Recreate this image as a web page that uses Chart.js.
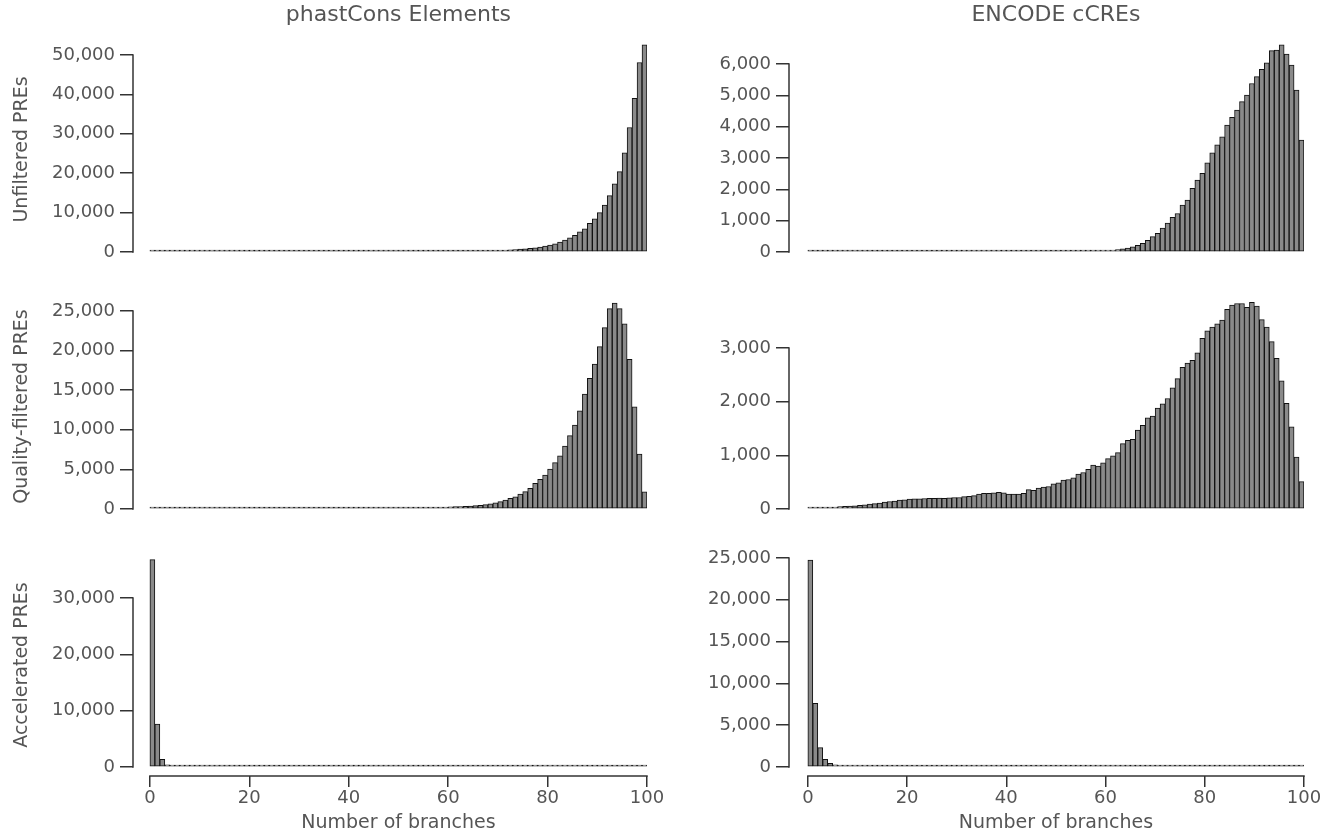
<!DOCTYPE html>
<html>
<head>
<meta charset="utf-8">
<script src="https://cdn.jsdelivr.net/npm/chart.js@4.4.0/dist/chart.umd.min.js"></script>
<style>
  body { margin: 0; background: #fff; }
  #wrap { position: relative; width: 1323px; height: 837px; }
  #wrap canvas { position: absolute; left: 0; top: 0; }
</style>
</head>
<body>
<div id="wrap">
  <canvas id="c1" width="1323" height="837"></canvas>
  <canvas id="c2" width="1323" height="837"></canvas>
  <canvas id="c3" width="1323" height="837"></canvas>
  <canvas id="c4" width="1323" height="837"></canvas>
  <canvas id="c5" width="1323" height="837"></canvas>
  <canvas id="c6" width="1323" height="837"></canvas>
</div>
<script>
// --- data: counts per 1-branch bin (0-1, 1-2, ... 99-100) ---
const bins = Array.from({length: 100}, (_, i) => i); // bin left edges

const phastUnfiltered = [
  12, 10, 9, 9, 8, 8, 8, 8, 8, 8,
  8, 8, 8, 9, 9, 9, 9, 10, 10, 10,
  11, 11, 12, 12, 13, 13, 14, 15, 15, 16,
  17, 18, 19, 20, 21, 23, 24, 26, 28, 30,
  32, 34, 36, 39, 42, 45, 48, 52, 56, 60,
  65, 70, 75, 81, 87, 94, 101, 109, 118, 128,
  140, 155, 170, 190, 210, 235, 265, 300, 340, 385,
  430, 490, 560, 640, 720, 800, 920, 1060, 1250, 1500,
  1750, 2050, 2500, 3000, 3600, 4200, 5100, 5900, 7300, 8400,
  10000, 11900, 14300, 17300, 20400, 25200, 31600, 39000, 48100, 52600
];
const encodeUnfiltered = [
  3, 3, 3, 3, 3, 3, 3, 3, 3, 3,
  3, 3, 3, 3, 3, 4, 4, 4, 4, 4,
  4, 4, 4, 5, 5, 5, 5, 5, 6, 6,
  6, 6, 7, 7, 7, 8, 8, 8, 9, 9,
  10, 10, 11, 12, 12, 13, 14, 15, 16, 18,
  19, 21, 23, 25, 28, 31, 34, 38, 43, 48,
  55, 65, 80, 100, 125, 165, 215, 280, 375, 490,
  600, 760, 920, 1110, 1230, 1500, 1660, 2030, 2300, 2510,
  2850, 3170, 3420, 3680, 4050, 4300, 4530, 4800, 5010, 5380,
  5600, 5830, 6040, 6430, 6450, 6610, 6320, 5970, 5170, 3570
];
const phastFiltered = [
  60, 55, 55, 55, 60, 60, 65, 70, 75, 80,
  90, 100, 110, 130, 150, 200, 230, 180, 140, 120,
  100, 90, 85, 80, 80, 75, 75, 75, 75, 75,
  75, 75, 75, 78, 80, 82, 85, 88, 90, 95,
  98, 100, 105, 110, 115, 120, 125, 130, 138, 145,
  150, 158, 165, 172, 180, 190, 200, 215, 230, 250,
  270, 295, 320, 350, 380, 420, 470, 550, 650, 780,
  930, 1140, 1350, 1550, 1890, 2190, 2610, 3240, 3750, 4290,
  5050, 5850, 6730, 7950, 9260, 10600, 12400, 14500, 16500, 18300,
  20500, 22900, 25300, 26000, 25300, 23400, 18900, 12900, 6940, 2180
];
const encodeFiltered = [
  30, 30, 30, 30, 35, 35, 45, 50, 55, 60,
  70, 80, 90, 100, 110, 130, 140, 150, 165, 170,
  185, 190, 190, 195, 200, 200, 205, 200, 210, 215,
  215, 230, 235, 250, 280, 290, 290, 300, 310, 300,
  280, 280, 280, 290, 360, 350, 390, 410, 420, 470,
  490, 540, 550, 580, 650, 680, 740, 820, 800, 860,
  940, 990, 1050, 1220, 1280, 1300, 1470, 1560, 1700, 1730,
  1880, 1960, 2060, 2260, 2430, 2640, 2720, 2770, 2910, 3180,
  3320, 3390, 3450, 3520, 3720, 3800, 3830, 3830, 3760, 3850,
  3780, 3530, 3390, 3120, 2810, 2390, 1970, 1530, 970, 510
];
const phastAccelerated = [
  36800, 7600, 1350, 380, 180, 90, 40, 25, 20, 15,
  12, 12, 11, 11, 10, 10, 10, 10, 10, 10,
  10, 10, 10, 10, 10, 10, 10, 10, 10, 10,
  10, 10, 10, 10, 10, 10, 10, 10, 10, 10,
  10, 10, 10, 10, 10, 10, 10, 10, 10, 10,
  10, 10, 10, 10, 10, 10, 10, 10, 10, 10,
  10, 10, 10, 10, 10, 10, 10, 10, 10, 10,
  10, 10, 10, 10, 10, 10, 10, 10, 10, 10,
  10, 10, 10, 10, 10, 10, 10, 10, 10, 10,
  10, 10, 10, 10, 10, 10, 10, 10, 10, 10
];
const encodeAccelerated = [
  24750, 7620, 2310, 920, 440, 250, 150, 100, 70, 50,
  40, 35, 30, 28, 25, 22, 20, 18, 16, 15,
  12, 12, 12, 11, 11, 11, 10, 10, 10, 10,
  10, 10, 10, 10, 10, 10, 10, 10, 10, 10,
  10, 10, 10, 10, 10, 10, 10, 10, 10, 10,
  10, 10, 10, 10, 10, 10, 10, 10, 10, 10,
  10, 10, 10, 10, 10, 10, 10, 10, 10, 10,
  10, 10, 10, 10, 10, 10, 10, 10, 10, 10,
  10, 10, 10, 10, 10, 10, 10, 10, 10, 10,
  10, 10, 10, 10, 10, 10, 10, 10, 10, 10
];

// tick labels
const xTicks = [0, 20, 40, 60, 80, 100];
const ticksPhastUnf = [0, 10000, 20000, 30000, 40000, 50000];
const ticksEncodeUnf = [0, 1000, 2000, 3000, 4000, 5000, 6000];
const ticksPhastFil = [0, 5000, 10000, 15000, 20000, 25000];
const ticksEncodeFil = [0, 1000, 2000, 3000];
const ticksPhastAcc = [0, 10000, 20000, 30000];
const ticksEncodeAcc = [0, 5000, 10000, 15000, 20000, 25000];

const colTitles = ['phastCons Elements', 'ENCODE cCREs'];
const rowTitles = ['Unfiltered PREs', 'Quality-filtered PREs', 'Accelerated PREs'];
const xTitle = 'Number of branches';

// --- styling ---
const FONT = 'DejaVu Sans';
const textColor = '#555555';
const axisColor = '#333333';

// column frames (pixels): left = y axis line, right = x value 100
const cols = [
  {padLeft: 0, yWidth: 133, padRight: 1323 - 647, xMin: -3.4},
  {padLeft: 689, yWidth: 100, padRight: 1323 - 1304, xMin: -3.8}
];
// row frames: chart area top/bottom
const rows = [
  {top: 39, bottom: 260},
  {top: 296, bottom: 517},
  {top: 554, bottom: 776}
];

const panels = [
  {id: 'c1', col: 0, row: 0, values: phastUnfiltered, yTicks: ticksPhastUnf, yMin: -2030, yMax: 54060},
  {id: 'c2', col: 1, row: 0, values: encodeUnfiltered, yTicks: ticksEncodeUnf, yMin: -255, yMax: 6800},
  {id: 'c3', col: 0, row: 1, values: phastFiltered, yTicks: ticksPhastFil, yMin: -1010, yMax: 26900},
  {id: 'c4', col: 1, row: 1, values: encodeFiltered, yTicks: ticksEncodeFil, yMin: -149, yMax: 3970},
  {id: 'c5', col: 0, row: 2, values: phastAccelerated, yTicks: ticksPhastAcc, yMin: -1598, yMax: 37810},
  {id: 'c6', col: 1, row: 2, values: encodeAccelerated, yTicks: ticksEncodeAcc, yMin: -1077, yMax: 25480}
];

// R-style axes: y line only from first to last tick, x line from 0 to 100, titles
const rAxes = {
  id: 'rAxes',
  afterDraw(chart, args, o) {
    const ctx = chart.ctx;
    const xs = chart.scales.x, ys = chart.scales.y;
    const area = chart.chartArea;
    const x0 = xs.getPixelForValue(xTicks[0]);
    const x1 = xs.getPixelForValue(xTicks[xTicks.length - 1]);
    ctx.save();
    ctx.strokeStyle = axisColor;
    ctx.lineWidth = 1.5;
    ctx.beginPath();
    ctx.moveTo(area.left, ys.getPixelForValue(o.yTicks[0]) + 0.75);
    ctx.lineTo(area.left, ys.getPixelForValue(o.yTicks[o.yTicks.length - 1]) - 0.75);
    ctx.stroke();
    ctx.fillStyle = textColor;
    ctx.textAlign = 'center';
    ctx.textBaseline = 'middle';
    if (o.bottom) {
      ctx.beginPath();
      ctx.moveTo(x0 - 0.75, area.bottom);
      ctx.lineTo(x1 + 0.75, area.bottom);
      ctx.stroke();
      ctx.font = '19px "' + FONT + '"';
      ctx.fillText(xTitle, (x0 + x1) / 2, area.bottom + 47);
    }
    if (o.title) {
      ctx.font = '22px "' + FONT + '"';
      ctx.fillText(o.title, (x0 + x1) / 2, area.top - 24);
    }
    ctx.restore();
  }
};

panels.forEach(function (p) {
  const c = cols[p.col], r = rows[p.row];
  const isBottom = p.row === 2;
  const xHeight = 58;
  new Chart(document.getElementById(p.id), {
    type: 'bar',
    data: {
      datasets: [{
        data: bins.map((b, i) => ({x: b + 0.5, y: p.values[i]})),
        backgroundColor: '#8a8a8a',
        borderColor: '#111111',
        borderWidth: 1,
        borderSkipped: false,
        barPercentage: 1,
        categoryPercentage: 1,
        minBarLength: 2
      }]
    },
    options: {
      responsive: false,
      animation: false,
      events: [],
      layout: {
        padding: {
          left: c.padLeft,
          right: c.padRight,
          top: r.top,
          bottom: isBottom ? 837 - r.bottom - xHeight : 837 - r.bottom
        }
      },
      scales: {
        x: {
          type: 'linear',
          min: c.xMin,
          max: 100,
          offset: false,
          display: isBottom,
          afterBuildTicks: s => { s.ticks = xTicks.map(v => ({value: v})); },
          afterFit: s => { if (isBottom) s.height = xHeight; },
          grid: {offset: false, drawOnChartArea: false, drawTicks: true, tickLength: 11, color: axisColor, lineWidth: 1.5},
          border: {display: false},
          ticks: {font: {family: FONT, size: 18}, color: textColor, padding: 1, maxRotation: 0, autoSkip: false}
        },
        y: {
          min: p.yMin,
          max: p.yMax,
          afterBuildTicks: s => { s.ticks = p.yTicks.map(v => ({value: v})); },
          afterFit: s => { s.width = c.yWidth; },
          grid: {drawOnChartArea: false, drawTicks: true, tickLength: 13, color: axisColor, lineWidth: 1.5},
          border: {display: false},
          ticks: {
            font: {family: FONT, size: 18}, color: textColor, padding: 5,
            callback: v => v.toLocaleString('en-US')
          },
          title: {
            display: p.col === 0,
            text: rowTitles[p.row],
            font: {family: FONT, size: 19},
            color: textColor,
            padding: {top: 11, bottom: 0}
          }
        }
      },
      plugins: {
        legend: {display: false},
        tooltip: {enabled: false},
        rAxes: {yTicks: p.yTicks, bottom: isBottom, title: p.row === 0 ? colTitles[p.col] : null}
      }
    },
    plugins: [rAxes]
  });
});
</script>
</body>
</html>
